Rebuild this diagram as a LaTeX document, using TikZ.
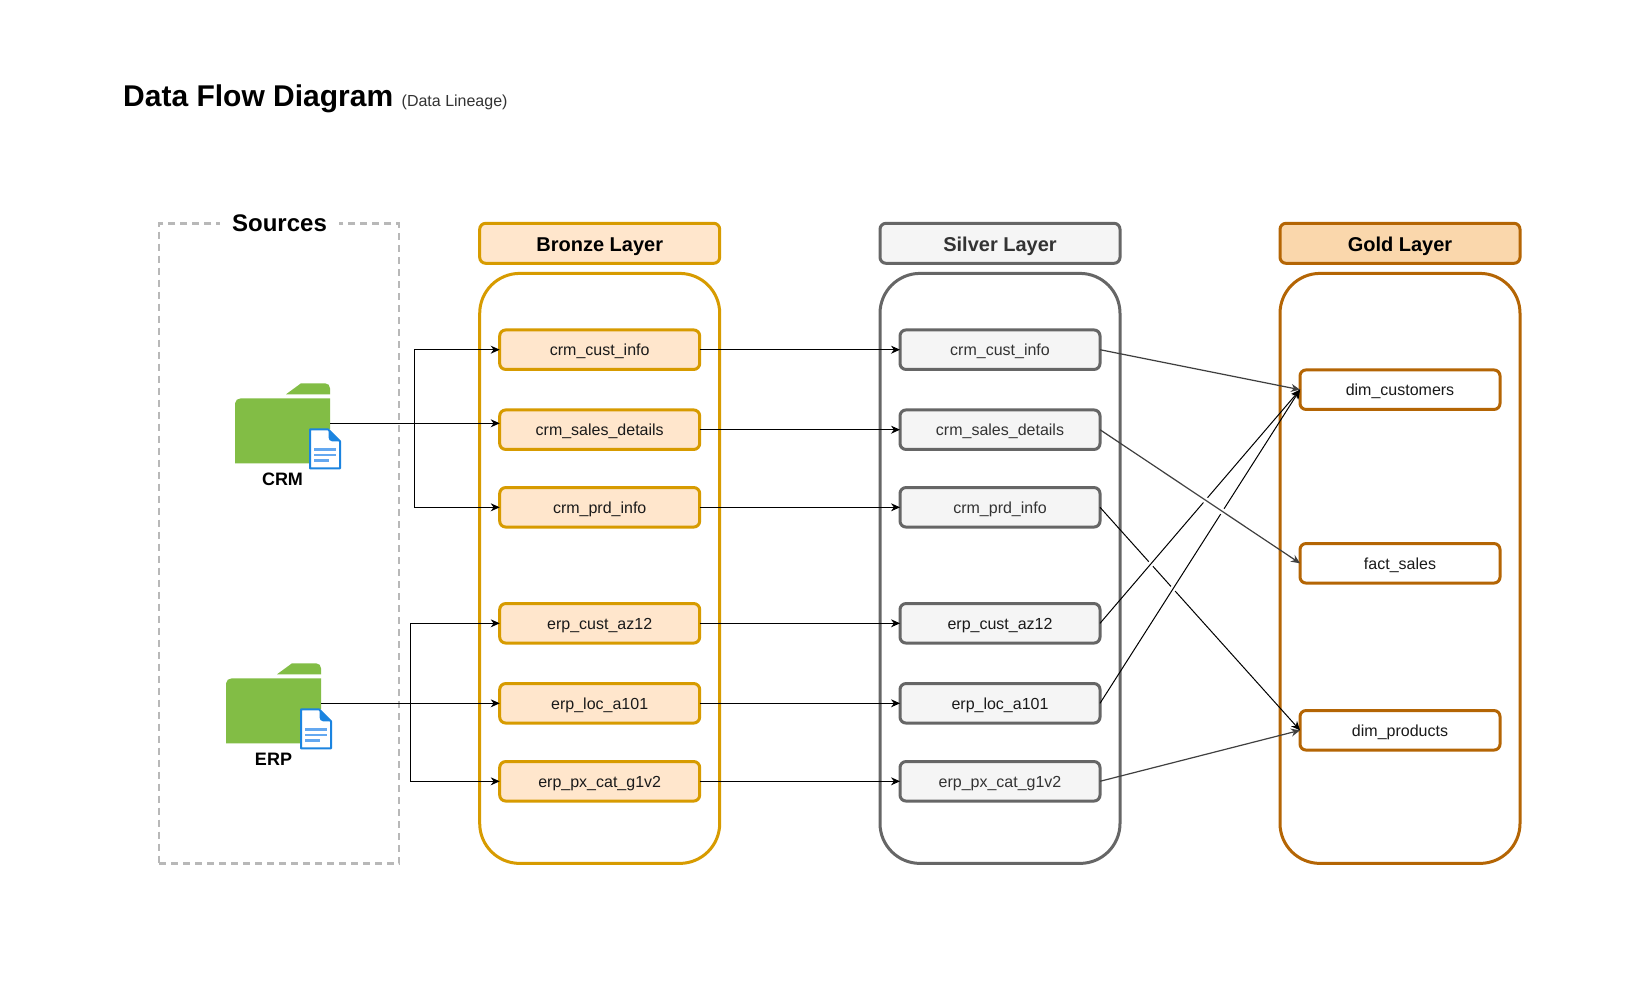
\documentclass[tikz,border=0pt]{standalone}
\usepackage{fontspec}
\setmainfont{Liberation Sans}
\usetikzlibrary{arrows.meta,positioning,calc}
\definecolor{brS}{HTML}{D79B00}\definecolor{brF}{HTML}{FFE6CC}
\definecolor{siS}{HTML}{666666}\definecolor{siF}{HTML}{F5F5F5}
\definecolor{goS}{HTML}{B46504}\definecolor{goF}{HTML}{FAD7AC}
\definecolor{folderG}{HTML}{82BD45}\definecolor{docB}{HTML}{1B84E0}\definecolor{docL}{HTML}{64A8F0}
\definecolor{dashG}{HTML}{B8B8B8}\definecolor{txt}{HTML}{1A1A1A}\definecolor{sitxt}{HTML}{333333}\definecolor{flowgrey}{HTML}{404040}
\tikzset{
 x=1pt,y=-1pt,
 pane/.style={draw,line width=3pt,rounded corners=40pt,minimum width=240pt,minimum height=590pt,inner sep=0pt,outer sep=0pt},
 head/.style={draw,line width=3pt,rounded corners=6pt,minimum width=240pt,minimum height=40pt,inner sep=0pt,outer sep=0pt,text height=16pt,text depth=0pt,font=\fontsize{20}{24}\selectfont\bfseries},
 item/.style={draw,line width=3pt,rounded corners=6pt,minimum width=200pt,minimum height=39.5pt,inner sep=0pt,outer sep=0pt,text height=13pt,text depth=1pt,font=\fontsize{16}{19}\selectfont},
 bronze/.style={draw=brS,fill=brF,text=txt},
 silver/.style={draw=siS,fill=siF,text=sitxt},
 gold/.style={draw=goS,fill=goF,text=black},
 goldi/.style={draw=goS,fill=white,text=txt},
 flow/.style={line width=1pt,color=black,-{Stealth[length=9pt,width=8pt]}},
 flowg/.style={flow,color=flowgrey,line width=1.2pt},
 jumpgap/.style={white,line width=2.4pt},
 foldersrc/.style={minimum width=95pt,minimum height=80pt,inner sep=0pt,outer sep=0pt},
 srclabel/.style={font=\fontsize{18}{20}\selectfont\bfseries},
}
\newcommand{\folderdoc}[1]{%
 \begin{scope}[shift={(#1)}]
  \fill[folderG] (51,11) -- (66,0) -- (90,0) .. controls (93,0) and (95,2) .. (95,5) -- (95,11) -- cycle;
  \fill[folderG] (0,20) .. controls (0,17) and (3,15) .. (6,15) -- (95,15) -- (95,80) -- (0,80) -- cycle;
  \fill[white] (75,46) -- (96,46) -- (106,56) -- (106,86) -- (75,86) -- cycle;
  \draw[docB,line width=2pt,fill=white,line join=round] (75,46) -- (93,46) -- (105,58) -- (105,85) -- (75,85) -- cycle;
  \fill[docB] (93.5,46) -- (105,58) -- (97,58) .. controls (95,58) and (93.5,56) .. (93.5,54) -- cycle;
  \draw[docL,line width=2.6pt] (79,66) -- (101,66) (79,71.5) -- (101,71.5) (79,77) -- (94,77);
 \end{scope}}
% white break on the line (#2)--(#3) at point #1
\newcommand{\linegap}[3]{\draw[jumpgap] ($(#1)!3pt!(#2)$) -- ($(#1)!3pt!(#3)$);}
\begin{document}
\begin{tikzpicture}
\useasboundingbox (0,0) rectangle (1651,990);
\fill[white] (0,0) rectangle (1651,990);
% title
\node[anchor=base west,inner sep=0pt,font=\fontsize{30}{34}\selectfont\bfseries] (title) at (123,106) {Data Flow Diagram};
\node[anchor=base west,inner sep=0pt,font=\fontsize{16}{18}\selectfont,text=sitxt] (subtitle) at (401.5,106) {(Data Lineage)};
% sources
\node[draw=dashG,line width=2.2pt,dash pattern=on 7pt off 5pt,minimum width=240pt,minimum height=640pt,inner sep=0pt] (src) at (279,543.5) {};
\node[fill=white,inner sep=0pt,minimum width=119pt,minimum height=30pt,font=\fontsize{24}{26}\selectfont\bfseries] (srct) at (279.5,223) {Sources};
% panes
\node[pane,draw=brS] (pb) at (599.7,568.4) {};
\node[pane,draw=siS] (ps) at (1000,568.4) {};
\node[pane,draw=goS] (pg) at (1400,568.4) {};
\node[head,bronze,text=black] (hb) at (599.7,243.3) {Bronze Layer};
\node[head,silver,text=sitxt] (hs) at (1000,243.3) {Silver Layer};
\node[head,gold] (hg) at (1400,243.3) {Gold Layer};
% bronze
\node[item,bronze] (b1) at (599.7,349.7) {crm\_cust\_info};
\node[item,bronze] (b2) at (599.7,429.7) {crm\_sales\_details};
\node[item,bronze] (b3) at (599.7,507.3) {crm\_prd\_info};
\node[item,bronze] (b4) at (599.7,623.3) {erp\_cust\_az12};
\node[item,bronze] (b5) at (599.7,703.3) {erp\_loc\_a101};
\node[item,bronze] (b6) at (599.7,781.3) {erp\_px\_cat\_g1v2};
% silver
\node[item,silver] (s1) at (1000,349.7) {crm\_cust\_info};
\node[item,silver] (s2) at (1000,429.7) {crm\_sales\_details};
\node[item,silver] (s3) at (1000,507.3) {crm\_prd\_info};
\node[item,silver,text=txt] (s4) at (1000,623.3) {erp\_cust\_az12};
\node[item,silver,text=txt] (s5) at (1000,703.3) {erp\_loc\_a101};
\node[item,silver] (s6) at (1000,781.3) {erp\_px\_cat\_g1v2};
% gold
\node[item,goldi] (g1) at (1400,389.7) {dim\_customers};
\node[item,goldi] (g2) at (1400,563.3) {fact\_sales};
\node[item,goldi] (g3) at (1400,730.3) {dim\_products};
% folders
\folderdoc{235,383.3}
\folderdoc{226,663.3}
\node[foldersrc] (crm) at (282.5,423.3) {};
\node[foldersrc] (erp) at (273.5,703.3) {};
\node[srclabel] (crml) at (282.5,479.5) {CRM};
\node[srclabel] (erpl) at (273.5,759.5) {ERP};
% source connectors
\coordinate (busc) at (414.7,423.3);
\coordinate (buse) at (410.3,703.3);
\draw[flow] (crm.east) -- (crm.east -| b2.west);
\draw[flow] (busc) |- (b1.west);
\draw[flow] (busc) |- (b3.west);
\draw[flow] (erp.east) -- (b5.west);
\draw[flow] (buse) |- (b4.west);
\draw[flow] (buse) |- (b6.west);
% bronze to silver
\foreach \i in {1,...,6} \draw[flow] (b\i.east) -- (s\i.west);
% silver to gold, with line jumps at the crossings
\coordinate (x34) at (intersection of s3.east--g3.west and s4.east--g1.west);
\coordinate (x35) at (intersection of s3.east--g3.west and s5.east--g1.west);
\coordinate (x24) at (intersection of s2.east--g2.west and s4.east--g1.west);
\coordinate (x25) at (intersection of s2.east--g2.west and s5.east--g1.west);
\draw[flowg] (s1.east) -- (g1.west);
\draw[flow] (s3.east) -- (g3.west);
\linegap{x34}{s3.east}{g3.west}
\linegap{x35}{s3.east}{g3.west}
\draw[flow] (s4.east) -- (g1.west);
\draw[flow] (s5.east) -- (g1.west);
\linegap{x24}{s4.east}{g1.west}
\linegap{x25}{s5.east}{g1.west}
\draw[flowg] (s2.east) -- (g2.west);
\draw[flowg] (s6.east) -- (g3.west);
\end{tikzpicture}
\end{document}
